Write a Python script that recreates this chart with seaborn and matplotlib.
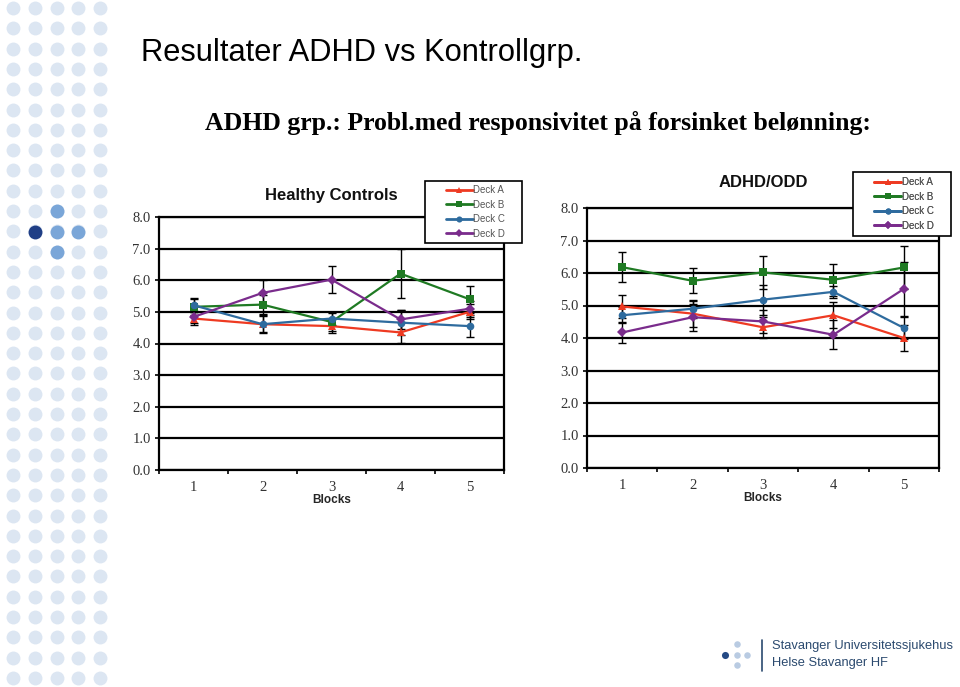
import matplotlib
matplotlib.use("Agg")
import matplotlib.pyplot as plt
import seaborn as sns
import pandas as pd
from matplotlib.patches import Rectangle

# data
blocks = [1, 2, 3, 4, 5]
decks = ["Deck A", "Deck B", "Deck C", "Deck D"]

hc_a = [4.79, 4.61, 4.55, 4.35, 5.00]
hc_b = [5.16, 5.23, 4.68, 6.21, 5.40]
hc_c = [5.21, 4.61, 4.79, 4.66, 4.55]
hc_d = [4.84, 5.60, 6.02, 4.76, 5.10]
hc_a_err = [0.20, 0.28, 0.22, 0.33, 0.24]
hc_b_err = [0.25, 0.30, 0.30, 0.78, 0.42]
hc_c_err = [0.22, 0.26, 0.21, 0.40, 0.34]
hc_d_err = [0.20, 0.42, 0.43, 0.30, 0.25]

adhd_a = [4.97, 4.75, 4.33, 4.70, 4.00]
adhd_b = [6.18, 5.76, 6.02, 5.79, 6.17]
adhd_c = [4.70, 4.90, 5.18, 5.42, 4.31]
adhd_d = [4.17, 4.64, 4.51, 4.10, 5.51]
adhd_a_err = [0.34, 0.40, 0.33, 0.40, 0.40]
adhd_b_err = [0.46, 0.38, 0.50, 0.50, 0.67]
adhd_c_err = [0.25, 0.28, 0.46, 0.18, 0.35]
adhd_d_err = [0.32, 0.42, 0.35, 0.44, 0.83]

deck_colors = {"Deck A": "#ee3a22", "Deck B": "#1f7a23", "Deck C": "#2e6b9e", "Deck D": "#7a2c8c"}
deck_markers = {"Deck A": "^", "Deck B": "s", "Deck C": "o", "Deck D": "D"}

sns.set_style("white")
W, H = 960, 687
fig = plt.figure(figsize=(W / 100, H / 100), dpi=100)


def px(x0, y0, x1, y1):
    # pixel box -> figure fraction rect
    return [x0 / W, 1 - y1 / H, (x1 - x0) / W, (y1 - y0) / H]


# decorative dot column on the left
bg = fig.add_axes([0, 0, 1, 1], zorder=-5)
bg.set_xlim(0, W)
bg.set_ylim(H, 0)
bg.axis("off")
cols = [13, 35, 57, 78, 100]
rows = [8 + 20.3 * i for i in range(34)]
gx = [c for r in rows for c in cols]
gy = [r for r in rows for c in cols]
bg.scatter(gx, gy, s=100, color="#dce6f2", linewidths=0)
bg.scatter([57, 57, 78, 57], [211, 232, 232, 252], s=100, color="#7aa6d8", linewidths=0)
bg.scatter([35], [232], s=100, color="#203f86", linewidths=0)

# logo
bg.scatter([737, 737, 747, 737], [644, 655, 655, 665], s=22, color="#b9cbe2", linewidths=0)
bg.scatter([725], [655], s=26, color="#254a85", linewidths=0)
bg.plot([762, 762], [640, 671], color="#2b4a6f", lw=1.2)
bg.text(772, 646, "Stavanger Universitetssjukehus", fontsize=9.3, color="#2b4a6f",
        family="Liberation Sans", va="center")
bg.text(772, 663, "Helse Stavanger HF", fontsize=9.3, color="#2b4a6f",
        family="Liberation Sans", va="center")

bg.text(141, 61, "Resultater ADHD vs Kontrollgrp.", fontsize=22.2,
        family="Liberation Sans", va="baseline", color="black")
bg.text(205, 130, "ADHD grp.: Probl.med responsivitet på forsinket belønning:",
        fontsize=18.5, family="Liberation Serif", fontweight="bold",
        va="baseline", color="black")

top = fig.add_axes([0, 0, 1, 1], zorder=10)
top.set_xlim(0, W)
top.set_ylim(H, 0)
top.axis("off")


def draw_panel(ax, title, vals, errs, legend_box, title_pad):
    df = pd.DataFrame({
        "Blocks": blocks * len(decks),
        "Score": [v for series in vals for v in series],
        "Deck": [d for d in decks for _ in blocks],
    })
    for series, err in zip(vals, errs):
        ax.errorbar(blocks, series, yerr=err, fmt="none", ecolor="black",
                    elinewidth=1.0, capsize=3, capthick=1.0, zorder=2)
    sns.lineplot(data=df, x="Blocks", y="Score", hue="Deck", style="Deck",
                 palette=deck_colors, markers=deck_markers, dashes=False,
                 linewidth=1.6, markersize=5.5, markeredgewidth=0, ax=ax, zorder=3)

    ax.set_xlim(0.5, 5.5)
    ax.set_ylim(0, 8)
    ax.set_yticks(range(0, 9))
    ax.set_yticklabels([f"{v:.1f}" for v in range(0, 9)])
    ax.set_xticks(blocks)
    ax.set_xticks([0.5, 1.5, 2.5, 3.5, 4.5, 5.5], minor=True)
    ax.tick_params(axis="x", which="major", length=0, pad=8)
    ax.tick_params(axis="x", which="minor", length=3, width=1.2, color="black", direction="out", bottom=True)
    ax.tick_params(axis="y", which="major", length=3, width=1.2, color="black", direction="out", left=True, pad=3)
    for lab in ax.get_xticklabels() + ax.get_yticklabels():
        lab.set_family("Liberation Serif")
        lab.set_fontsize(10.5)
        lab.set_color("#333333")
    ax.yaxis.grid(True, color="black", linewidth=1.6)
    ax.xaxis.grid(False)
    ax.set_axisbelow(True)
    for sp in ax.spines.values():
        sp.set_color("black")
        sp.set_linewidth(1.6)
    ax.set_xlabel("Blocks", fontsize=8.5, fontweight="bold", family="Liberation Sans", labelpad=0)
    ax.set_ylabel("")
    ax.set_title(title, fontsize=12, fontweight="bold", family="Liberation Sans",
                 pad=title_pad, color="#111111")

    handles, labels = ax.get_legend_handles_labels()
    ax.get_legend().remove()
    x0, y0, x1, y1 = legend_box
    top.add_patch(Rectangle((x0, y0), x1 - x0, y1 - y0, facecolor="white",
                            edgecolor="black", linewidth=1.2))
    leg = top.legend(handles, labels, loc="center",
                     bbox_to_anchor=((x0 + 4 + x1) / 2 / W, 1 - (y0 + y1) / 2 / H),
                     bbox_transform=fig.transFigure, frameon=False,
                     fontsize=7, handlelength=2.8, handletextpad=0.05,
                     labelspacing=0.45, borderpad=0, borderaxespad=0,
                     markerscale=0.8)
    for h in leg.legend_handles:
        h.set_linewidth(2.0)
    for t in leg.get_texts():
        t.set_color("#555555")
        t.set_family("Liberation Sans")
    top.add_artist(leg)


ax1 = fig.add_axes(px(159, 217, 504, 470))
draw_panel(ax1, "Healthy Controls",
           [hc_a, hc_b, hc_c, hc_d],
           [hc_a_err, hc_b_err, hc_c_err, hc_d_err],
           (425, 181, 522, 243), 12)

ax2 = fig.add_axes(px(587, 208, 939, 468))
draw_panel(ax2, "ADHD/ODD",
           [adhd_a, adhd_b, adhd_c, adhd_d],
           [adhd_a_err, adhd_b_err, adhd_c_err, adhd_d_err],
           (853, 172, 951, 236), 15)

fig.savefig("out.png", dpi=100)
